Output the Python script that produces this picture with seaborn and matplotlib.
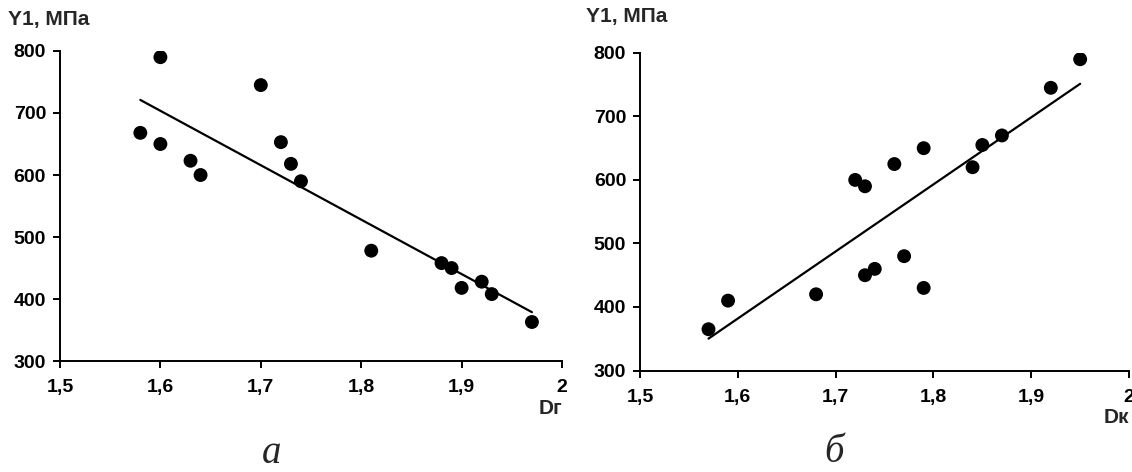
import matplotlib
matplotlib.use("Agg")
import matplotlib.pyplot as plt
from matplotlib.ticker import FuncFormatter

import pandas as pd
import seaborn as sns


# Panel a: Y1 against D_g
d_g = [1.58, 1.60, 1.60, 1.63, 1.64, 1.70, 1.72, 1.73, 1.74,
       1.81, 1.88, 1.89, 1.90, 1.92, 1.93, 1.97]
y1_a = [668, 790, 650, 623, 600, 745, 653, 618, 590,
        478, 458, 450, 418, 428, 408, 363]

# Panel b: Y1 against D_k
d_k = [1.57, 1.59, 1.68, 1.72, 1.73, 1.73, 1.74, 1.76, 1.77,
       1.79, 1.79, 1.84, 1.85, 1.87, 1.92, 1.95]
y1_b = [365, 410, 420, 600, 590, 450, 460, 625, 480,
        650, 430, 620, 655, 670, 745, 790]

x_ticks = [1.5, 1.6, 1.7, 1.8, 1.9, 2.0]
y_ticks = [300, 400, 500, 600, 700, 800]

df_a = pd.DataFrame({'D': d_g, 'Y1': y1_a})
df_b = pd.DataFrame({'D': d_k, 'Y1': y1_b})


sns.set_style("ticks", {'axes.grid': False,
                        'axes.facecolor': 'white',
                        'axes.edgecolor': 'black'})
plt.rcParams['font.family'] = ['Liberation Sans', 'DejaVu Sans']

fig = plt.figure(figsize=(11.32, 4.72), dpi=100)
ax_a = fig.add_axes([0.053, 0.235, 0.4435, 0.657])
ax_b = fig.add_axes([0.5654, 0.215, 0.432, 0.673])


def comma_fmt(v, pos):
    s = ('%.1f' % v).replace('.', ',')
    return '2' if s == '2,0' else s


for ax, df, xname in [(ax_a, df_a, 'Dг'), (ax_b, df_b, 'Dк')]:
    sns.regplot(x='D', y='Y1', data=df, ax=ax, ci=None, truncate=True,
                color='black',
                scatter_kws={'s': 100, 'edgecolor': 'none', 'alpha': 1},
                line_kws={'lw': 1.6})

    ax.set_xlim(1.5, 2.0)
    ax.set_ylim(300, 800)
    ax.set_xticks(x_ticks)
    ax.set_yticks(y_ticks)
    ax.xaxis.set_major_formatter(FuncFormatter(comma_fmt))

    ax.spines["right"].set_visible(False)
    ax.spines["top"].set_visible(False)
    for sp in ['left', 'bottom']:
        ax.spines[sp].set_linewidth(1.4)
        ax.spines[sp].set_color('black')

    ax.tick_params(axis='both', which='major', direction='out', length=5,
                   width=1.4, color='black', labelsize=14,
                   labelcolor='black')
    ax.tick_params(axis='y', pad=5)
    ax.tick_params(axis='x', pad=8)
    for lab in ax.get_xticklabels() + ax.get_yticklabels():
        lab.set_fontweight('bold')

    ax.set_ylabel('')
    ax.set_xlabel(xname, loc='right', fontsize=15, fontweight='bold',
                  labelpad=2)

# Axis titles above the y axes
fig.text(0.007, 0.958, 'Y1, МПа', fontsize=15, fontweight='bold',
         ha='left', va='center')
fig.text(0.518, 0.964, 'Y1, МПа', fontsize=15, fontweight='bold',
         ha='left', va='center')

# Panel letters
fig.text(0.240, 0.02, 'а', fontsize=28, style='italic',
         family=['Liberation Serif', 'DejaVu Serif'], ha='center',
         va='baseline')
fig.text(0.737, 0.022, 'б', fontsize=28, style='italic',
         family=['Liberation Serif', 'DejaVu Serif'], ha='center',
         va='baseline')

plt.savefig('out.png', dpi=100)
